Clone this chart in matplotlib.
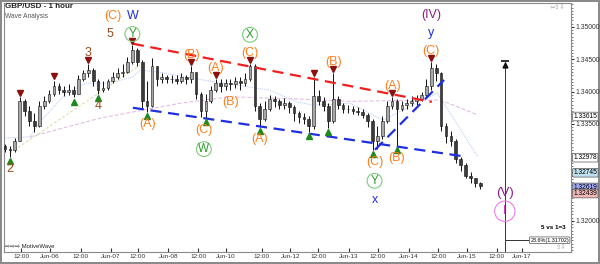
import matplotlib.pyplot as plt
from matplotlib import transforms
from matplotlib.ticker import MultipleLocator

plt.rcParams["font.family"] = ["Liberation Sans", "DejaVu Sans"]

# 2-hour candles, GBP/USD
closes = [1.3312, 1.3309, 1.3324, 1.3385, 1.3370, 1.3354, 1.3347, 1.3377, 1.3385, 1.3396,
          1.3408, 1.3403, 1.3400, 1.3403, 1.3397, 1.3419, 1.3428, 1.3434, 1.3416, 1.3403,
          1.3406, 1.3416, 1.3422, 1.3428, 1.3431, 1.3446, 1.3465, 1.3446, 1.3385, 1.3377,
          1.3439, 1.3419, 1.3422, 1.3419, 1.3420, 1.3417, 1.3422, 1.3419, 1.3431, 1.3397,
          1.3370, 1.3385, 1.3403, 1.3413, 1.3408, 1.3413, 1.3411, 1.3416, 1.3413, 1.3419,
          1.3439, 1.3377, 1.3357, 1.3373, 1.3388, 1.3385, 1.3379, 1.3382, 1.3376, 1.3367,
          1.3361, 1.3357, 1.3347, 1.3393, 1.3385, 1.3377, 1.3354, 1.3388, 1.3379, 1.3373,
          1.3373, 1.3370, 1.3368, 1.3364, 1.3354, 1.3324, 1.3331, 1.3354, 1.3377, 1.3385,
          1.3373, 1.3379, 1.3382, 1.3385, 1.3388, 1.3394, 1.3408, 1.3437, 1.3428, 1.3347,
          1.3331, 1.3324, 1.3296, 1.3286, 1.3270, 1.3266, 1.3258, 1.3254]
highs = [1.3319, 1.3316, 1.3328, 1.3391, 1.3388, 1.3377, 1.3367, 1.3385, 1.3393, 1.3403,
         1.3417, 1.3413, 1.3408, 1.3411, 1.3409, 1.3425, 1.3434, 1.3443, 1.3437, 1.3419,
         1.3416, 1.3420, 1.3431, 1.3437, 1.3443, 1.3454, 1.3472, 1.3468, 1.3449, 1.3416,
         1.3452, 1.3437, 1.3428, 1.3426, 1.3426, 1.3425, 1.3428, 1.3426, 1.3440, 1.3428,
         1.3400, 1.3397, 1.3409, 1.3420, 1.3419, 1.3419, 1.3420, 1.3423, 1.3422, 1.3428,
         1.3443, 1.3442, 1.3382, 1.3385, 1.3394, 1.3393, 1.3388, 1.3390, 1.3385, 1.3379,
         1.3370, 1.3367, 1.3362, 1.3423, 1.3403, 1.3391, 1.3382, 1.3428, 1.3393, 1.3382,
         1.3379, 1.3377, 1.3376, 1.3373, 1.3367, 1.3357, 1.3347, 1.3362, 1.3385, 1.3391,
         1.3388, 1.3385, 1.3388, 1.3393, 1.3394, 1.3400, 1.3419, 1.3446, 1.3442, 1.3431,
         1.3351, 1.3339, 1.3327, 1.3299, 1.3289, 1.3275, 1.3266, 1.3260]
lows = [1.3306, 1.3299, 1.3306, 1.3324, 1.3362, 1.3347, 1.3338, 1.3345, 1.3373, 1.3382,
        1.3393, 1.3396, 1.3393, 1.3394, 1.3391, 1.3397, 1.3416, 1.3422, 1.3409, 1.3396,
        1.3400, 1.3403, 1.3413, 1.3419, 1.3423, 1.3428, 1.3443, 1.3439, 1.3373, 1.3368,
        1.3376, 1.3409, 1.3413, 1.3413, 1.3413, 1.3411, 1.3414, 1.3411, 1.3413, 1.3388,
        1.3361, 1.3359, 1.3382, 1.3400, 1.3400, 1.3403, 1.3403, 1.3406, 1.3403, 1.3408,
        1.3416, 1.3370, 1.3345, 1.3354, 1.3370, 1.3376, 1.3373, 1.3373, 1.3367, 1.3354,
        1.3351, 1.3350, 1.3338, 1.3342, 1.3379, 1.3370, 1.3344, 1.3351, 1.3373, 1.3367,
        1.3367, 1.3365, 1.3364, 1.3359, 1.3345, 1.3310, 1.3312, 1.3327, 1.3351, 1.3373,
        1.3316, 1.3370, 1.3373, 1.3377, 1.3379, 1.3385, 1.3391, 1.3403, 1.3416, 1.3339,
        1.3321, 1.3316, 1.3290, 1.3278, 1.3266, 1.3258, 1.3252, 1.3249]
first_open = 1.3316
opens = [first_open] + closes[:-1]

tick_pos = [3.3, 9.2, 15.5, 21.6, 27.1, 33.3, 39.4, 45.1, 52.4, 58.2,
            63.9, 70.2, 76.1, 82.4, 88.4, 94.3, 100.4, 105.5]
tick_labels = ['12:00', 'Jun-06', '12:00', 'Jun-07', '12:00', 'Jun-08', '12:00', 'Jun-10',
               '12:00', 'Jun-12', '12:00', 'Jun-13', '12:00', 'Jun-14', '12:00', 'Jun-15',
               '12:00', 'Jun-17']
price_ticks = [1.320, 1.335, 1.340, 1.345, 1.350]

# swing markers
top_bars = [3, 10, 17, 26, 38, 43, 50, 63, 67, 79, 87]
bottom_bars = [1, 14, 19, 29, 41, 52, 62, 66, 75, 80]

# wave labels: bar, text, colour, side, level, circled, x shift (px)
BROWN, ORANGE, BLUE, GREEN, PURPLE = '#9b4a1c', '#ff7f1e', '#1f2fe0', '#2e9a2e', '#8a1e8a'
labels = [
    (1, '2', BROWN, 'low', 0, False, 0),
    (17, '3', BROWN, 'high', 0, False, 0),
    (19, '4', BROWN, 'low', 0, False, 0),
    (26, '5', BROWN, 'high', 0, False, -22),
    (26, '(C)', ORANGE, 'high', 1, False, -20),
    (26, 'Y', GREEN, 'high', 0, True, 0),
    (26, 'W', BLUE, 'high', 1, False, 0),
    (29, '(A)', ORANGE, 'low', 0, False, 0),
    (38, '(B)', ORANGE, 'high', 0, False, 0),
    (41, '(C)', ORANGE, 'low', 0, False, -2),
    (41, 'W', GREEN, 'low', 1, True, -2),
    (43, '(A)', ORANGE, 'high', 0, False, 0),
    (46, '(B)', ORANGE, 'low', 0, False, 0),
    (50, '(C)', ORANGE, 'high', 0, False, 0),
    (50, 'X', GREEN, 'high', 1, True, 0),
    (52, '(A)', ORANGE, 'low', 0, False, 0),
    (67, '(B)', ORANGE, 'high', 0, False, 0),
    (75, '(C)', ORANGE, 'low', 0, False, 2),
    (75, 'Y', GREEN, 'low', 1, True, 2),
    (75, 'x', BLUE, 'low', 2, False, 2),
    (79, '(A)', ORANGE, 'high', 0, False, 0),
    (80, '(B)', ORANGE, 'low', 0, False, 0),
    (87, '(C)', ORANGE, 'high', 0, False, 0),
    (87, 'y', BLUE, 'high', 1, False, 0),
    (87, '(IV)', PURPLE, 'high', 2, False, 0),
]

# channel / trend lines (bar, price)
red_line = ([26.1, 87.1], [1.3474, 1.3384])
blue_low = ([26.1, 93.5], [1.3375, 1.3300])
blue_up = ([75.5, 89.6], [1.3310, 1.3418])

# moving-average style overlays
pink_x = [5.1, 19.4, 35.7, 45.9, 58.2, 70.4, 88.8, 96.5]
pink_y = [1.3330, 1.3359, 1.3382, 1.3392, 1.3389, 1.3385, 1.3387, 1.3364]
lblue_x = [-1.0, 5.1, 7.1, 12.7, 16.7, 21.4, 26.1, 27.6, 31.6, 40.4, 54.1, 59.6, 62.9,
           70.4, 77.1, 85.3, 88.2, 96.5]
lblue_y = [1.3328, 1.3330, 1.3353, 1.3399, 1.3413, 1.3413, 1.3423, 1.3433, 1.3430, 1.3418,
           1.3402, 1.3384, 1.3379, 1.3382, 1.3356, 1.3387, 1.3398, 1.3299]
ygreen_x = [1.0, 27.6]
ygreen_y = [1.3305, 1.3441]

# projection tool
proj_bar = 102
proj_top = 1.3447
proj_level = 1.31702
proj_end = 107.2

# price tags on the right axis: value, face colour, shift (px)
tags = [(1.33615, 'white', 0), (1.32978, 'white', 0), (1.32745, '#bfe0ee', 0),
        (1.32619, '#a3a8f2', -6.5), (1.32439, '#f2b8b8', -1)]

fig = plt.figure(figsize=(6, 2.64), dpi=100)
fig.patch.set_edgecolor('#8a8a8a')
fig.patch.set_linewidth(1.5)
ax = fig.add_axes([4 / 600, 12 / 264, 567 / 600, 249 / 264])
ax.set_xlim(-0.2, 115.5)
ax.set_ylim(1.3152, 1.3537)

# candles
for i in range(len(closes)):
    o, c = opens[i], closes[i]
    ax.vlines(i, lows[i], highs[i], color='#111111', lw=0.7, zorder=2)
    lo, hi = min(o, c), max(o, c)
    if hi - lo < 0.00008:
        hi = lo + 0.00008
    ax.bar(i, hi - lo, bottom=lo, width=0.55,
           color='#a8a8a8' if c >= o else '#3c3c3c', edgecolor='#111111', lw=0.4, zorder=3)

# overlays
ax.plot(pink_x, pink_y, color='#e2b4e6', lw=0.7, ls=(0, (4, 2)), zorder=1)
ax.plot(lblue_x, lblue_y, color='#b4c8f5', lw=0.7, ls=(0, (1, 1)), zorder=1)
ax.plot(ygreen_x, ygreen_y, color='#d6dca0', lw=0.7, ls=(0, (3, 2)), zorder=1)
ax.plot(*red_line, color='#f02020', lw=1.6, ls=(0, (5, 3)), zorder=4)
ax.plot(*blue_low, color='#1f2fe0', lw=1.6, ls=(0, (5, 3)), zorder=4)
ax.plot(*blue_up, color='#1f2fe0', lw=1.6, ls=(0, (5, 3)), zorder=4)

# swing markers
up_off = transforms.offset_copy(ax.transData, fig=fig, y=3, units='points')
dn_off = transforms.offset_copy(ax.transData, fig=fig, y=-3, units='points')
ax.plot(top_bars, [highs[i] for i in top_bars], 'v', color='#8b1010', ms=4,
        transform=up_off, zorder=5)
ax.plot(bottom_bars, [lows[i] for i in bottom_bars], '^', color='#1e8a1e', ms=4,
        transform=dn_off, zorder=5)

# wave labels
above = [11, 29, 47]
below = [12, 31, 50]
for bar, txt, col, side, lev, circ, dx in labels:
    if side == 'high':
        xy, dy = (bar, highs[bar]), above[lev] * 0.72
    else:
        xy, dy = (bar, lows[bar]), -below[lev] * 0.72
    kw = dict(fontsize=9, color=col, ha='center', va='center', zorder=6)
    if circ:
        kw['fontsize'] = 8.5
        kw['bbox'] = dict(boxstyle='circle,pad=0.12', fc='none', ec='#7ccc7c', lw=0.8)
    ax.annotate(txt, xy=xy, xytext=(dx * 0.72, dy), textcoords='offset points', **kw)

# projection
ax.vlines(proj_bar, ax.get_ylim()[0], proj_top, color='#333333', lw=0.7)
ax.hlines(proj_top, proj_bar - 0.8, proj_bar + 0.8, color='#111111', lw=1.2)
ax.plot(proj_bar, proj_top, '^', color='#111111', ms=3.5,
        transform=transforms.offset_copy(ax.transData, fig=fig, y=-2.5, units='points'))
ax.hlines(proj_level, proj_bar, proj_end, color='#333333', lw=0.7)
ax.text(proj_end, proj_level, '23.6%(1.31702)', fontsize=3.9, va='center', ha='left',
        bbox=dict(boxstyle='round,pad=0.15', fc='white', ec='#555555', lw=0.5))
ax.text(114.5, proj_level + 0.0019, '5 vs 1=3', fontsize=4.5, fontweight='bold',
        ha='right', va='center')
ax.text(proj_bar, 1.3243, '(V)', fontsize=9.5, color=PURPLE, ha='center', va='center')
ax.text(proj_bar, 1.3215, 'I', fontsize=8.5, color='#cc22cc', ha='center', va='center',
        bbox=dict(boxstyle='circle,pad=0.35', fc='none', ec='#f07cf0', lw=0.8))

# axes styling
for s in ax.spines.values():
    s.set_color('#8a8a8a')
    s.set_linewidth(0.8)
ax.yaxis.tick_right()
ax.set_yticks(price_ticks)
ax.set_yticklabels(['%.5f' % p for p in price_ticks])
ax.yaxis.set_minor_locator(MultipleLocator(0.0005))
ax.tick_params(axis='y', which='major', labelsize=4.9, length=2.5, pad=1, colors='#333333')
ax.tick_params(axis='y', which='minor', length=1.5, color='#666666')
ax.set_xticks(tick_pos)
ax.set_xticklabels(tick_labels)
ax.tick_params(axis='x', direction='in', labelsize=4.6, length=3, pad=1.5, colors='#333333')

for val, fc, shift in tags:
    ax.annotate('%.5f' % val, xy=(1.0, val), xycoords=('axes fraction', 'data'),
                xytext=(1.8, shift * 0.72), textcoords='offset points', fontsize=4.8,
                ha='left', va='center', annotation_clip=False, zorder=7,
                bbox=dict(boxstyle='round,pad=0.12', fc=fc, ec='#555555', lw=0.5))

fig.text(5 / 600, 1 - 6 / 264, 'GBP/USD - 1 hour', fontsize=5.8, fontweight='bold',
         va='center', color='#222222')
fig.text(5 / 600, 1 - 17 / 264, 'Wave Analysis', fontsize=4.8, va='center', color='#555555')
fig.text(5 / 600, 1 - 246 / 264, '\u21e8\u21e8\u21e8 MotiveWave', fontsize=4.3,
         va='center', color='#222222')
fig.text(566 / 600, 1 - 7 / 264, '\u21e6\u21e7\u21e9', fontsize=4.5, ha='right',
         va='center', color='#999999')
fig.text(566 / 600, 1 - 247 / 264, '\u21e7\u21e9', fontsize=4.5, ha='right',
         va='center', color='#999999')

fig.savefig('out.png', dpi=100)
